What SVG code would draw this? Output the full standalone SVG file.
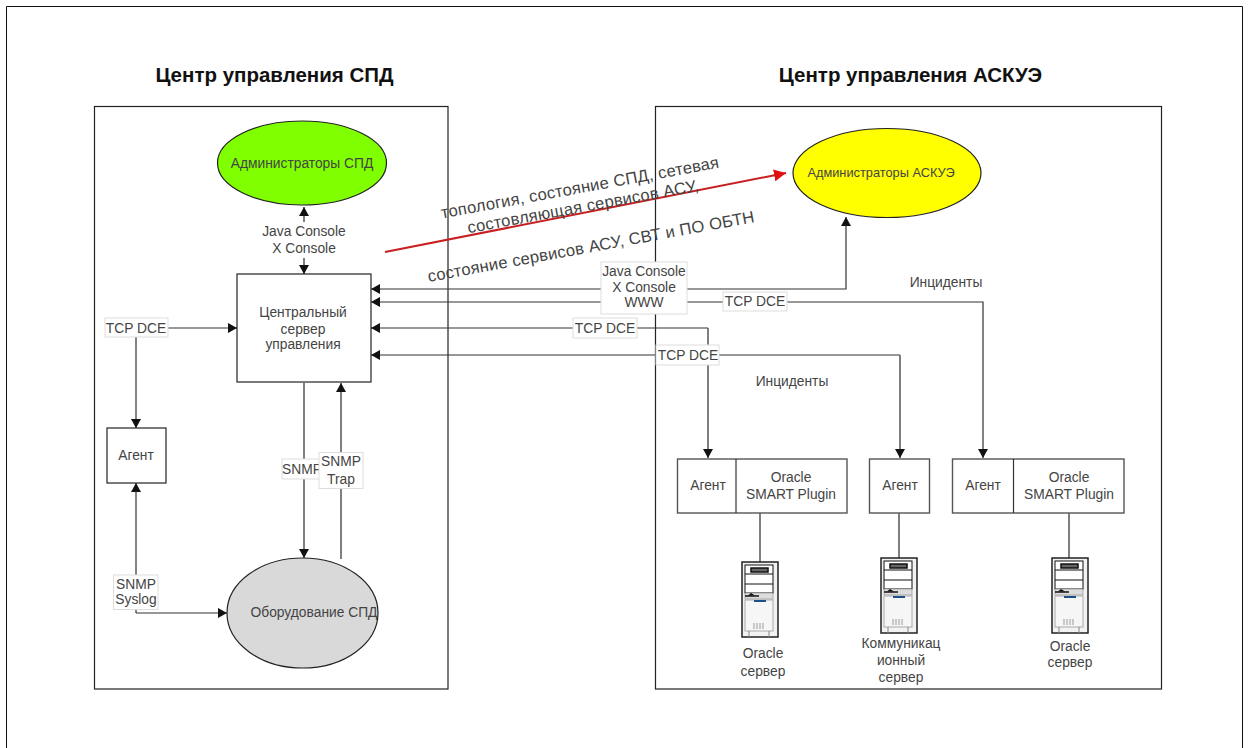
<svg xmlns="http://www.w3.org/2000/svg" width="1249" height="748" viewBox="0 0 1249 748">
<style>
text{font-family:"Liberation Sans",Arial,sans-serif;font-size:13.8px;fill:#444;text-anchor:middle}
.h{font-size:20.5px;font-weight:bold;fill:#111}
.r{font-size:16.6px;letter-spacing:.2px}
.box{fill:#fff;stroke:#222;stroke-width:1.2}
.sub{fill:#fff;stroke:#555;stroke-width:1.4}
.c{fill:none;stroke:#333;stroke-width:1.2}
.g{fill:none;stroke:#555;stroke-width:1.5}
.lb{fill:#fff;stroke:#ddd;stroke-width:1}
</style>
<defs>
<marker id="a" markerUnits="userSpaceOnUse" markerWidth="10" markerHeight="10" refX="9" refY="5" orient="auto-start-reverse"><path d="M0 0L9 5L0 10Z" fill="#111"/></marker>
<marker id="ra" markerUnits="userSpaceOnUse" markerWidth="14" markerHeight="14" refX="12" refY="6" orient="auto"><path d="M0 0L12 6L0 12Z" fill="#e01010"/></marker>
<g id="srv">
<rect x="0" y="0" width="36" height="75" fill="#f2f2f2" stroke="#222" stroke-width="1.5"/>
<rect x="3" y="3" width="28" height="28" fill="#fff" stroke="#111" stroke-width="1"/>
<path d="M3 12H31M3 22H31" stroke="#111" stroke-width="1"/>
<rect x="9" y="6" width="17" height="4" fill="#666" stroke="#111" stroke-width="1.5"/>
<rect x="3" y="31" width="28" height="6" fill="#ddd" stroke="#888" stroke-width=".6"/>
<path d="M3 34H17" stroke="#111" stroke-width="1.5"/><path d="M6 33.500L9 31L13 33.500Z" fill="#111"/>
<rect x="3" y="38" width="28" height="31" fill="#f6f6f6" stroke="#aaa" stroke-width="1"/>
<rect x="12" y="38" width="12" height="2" fill="#1f4f8a"/>
<path d="M11 62h12M11 64h12M11 66h12" stroke="#999" stroke-width="1" stroke-dasharray="2 1"/>
<path d="M7 69v6M27 69v6" stroke="#888" stroke-width="1"/>
</g>
</defs>
<rect width="1249" height="748" fill="#fff"/>
<path d="M6.500 748V6.500H1242.500V748" fill="none" stroke="#111" stroke-width="1"/>
<text class="h" x="274.500" y="81.500">Центр управления СПД</text>
<text class="h" x="910.500" y="81.500">Центр управления АСКУЭ</text>
<g id="zone-spd"><rect x="94.500" y="106.500" width="353.500" height="582.500" class="box"/></g>
<g id="zone-askue"><rect x="655.500" y="106.500" width="506" height="582.500" class="box"/></g>
<g id="connectors">
<path class="g" d="M304 207V274" marker-start="url(#a)" marker-end="url(#a)"/>
<path class="c" d="M846 217V289H371" marker-start="url(#a)" marker-end="url(#a)"/>
<path class="c" d="M983 458V302H371" marker-start="url(#a)" marker-end="url(#a)"/>
<path class="c" d="M708 328H371" marker-end="url(#a)"/>
<path class="g" d="M708 328V458" marker-end="url(#a)"/>
<path class="c" d="M900 355H371" marker-end="url(#a)"/>
<path class="g" d="M900 355V458" marker-end="url(#a)"/>
<path class="c" d="M136 328H237" marker-end="url(#a)"/>
<path class="c" d="M136 328V428" marker-end="url(#a)"/>
<path class="c" d="M136 613V483" marker-end="url(#a)"/>
<path class="c" d="M136 613H227" marker-end="url(#a)"/>
<path class="g" d="M304 383V558" marker-end="url(#a)"/>
<path class="g" d="M341 559V383" marker-end="url(#a)"/>
<path class="g" d="M760 513V562M899 513V558M1069 513V558"/>
<path d="M385 252L786 173" fill="none" stroke="#c82020" stroke-width="2" marker-end="url(#ra)"/>
</g>
<g id="admin-spd"><ellipse cx="302" cy="163" rx="84.500" ry="42" fill="#80ff00" stroke="#222" stroke-width="1.2"/><text x="302" y="168">Администраторы СПД</text></g>
<g id="admin-askue"><ellipse cx="887" cy="173" rx="94" ry="44.500" fill="#ffff00" stroke="#222" stroke-width="1.2"/><text x="881" y="177" style="font-size:12.8px">Администраторы АСКУЭ</text></g>
<g id="central"><rect x="237" y="274" width="134" height="108" class="box"/><text x="303" y="317">Центральный</text><text x="303" y="334">сервер</text><text x="303" y="349">управления</text></g>
<g id="agent-spd"><rect x="107" y="428" width="59" height="55" class="box"/><text x="136" y="460">Агент</text></g>
<g id="equipment"><ellipse cx="302.500" cy="613" rx="75.500" ry="55" fill="#d9d9d9" stroke="#222" stroke-width="1.2"/><text x="314" y="617">Оборудование СПД</text></g>
<g id="agent1"><rect x="677.500" y="459" width="169.500" height="54" class="sub"/><path class="c" d="M736 459V513"/><text x="708" y="490">Агент</text><text x="791" y="482">Oracle</text><text x="791" y="499">SMART Plugin</text></g>
<g id="agent2"><rect x="869.500" y="459" width="60" height="54" class="sub"/><text x="900" y="490">Агент</text></g>
<g id="agent3"><rect x="952.500" y="459" width="171.500" height="54" class="sub"/><path class="c" d="M1013.500 459V513"/><text x="983" y="490">Агент</text><text x="1069" y="482">Oracle</text><text x="1069" y="499">SMART Plugin</text></g>
<g id="server1"><use href="#srv" x="742" y="562"/><text x="763" y="658">Oracle</text><text x="763" y="676">сервер</text></g>
<g id="server2"><use href="#srv" x="881" y="558"/><text x="901" y="648">Коммуникац</text><text x="901" y="665">ионный</text><text x="901" y="682">сервер</text></g>
<g id="server3"><use href="#srv" x="1052" y="558"/><text x="1070" y="651">Oracle</text><text x="1070" y="667">сервер</text></g>
<g id="labels">
<rect x="261" y="222" width="85" height="36" fill="#fff"/>
<text x="304" y="236">Java Console</text><text x="304" y="253">X Console</text>
<rect class="lb" x="601" y="262" width="86" height="52"/><text x="644" y="276">Java Console</text><text x="644" y="292">X Console</text><text x="644" y="307">WWW</text>
<rect class="lb" x="723" y="292" width="64" height="19"/><text x="755" y="306">TCP DCE</text>
<rect class="lb" x="573" y="318" width="64" height="20"/><text x="605" y="333">TCP DCE</text>
<rect class="lb" x="656" y="345" width="63" height="20"/><text x="688" y="360">TCP DCE</text>
<rect class="lb" x="105" y="318" width="63" height="19"/><text x="136" y="333">TCP DCE</text>
<rect class="lb" x="282" y="459" width="40" height="20"/><text x="302" y="474">SNMP</text>
<rect class="lb" x="319" y="452.500" width="44" height="36"/><text x="341" y="466">SNMP</text><text x="341" y="484">Trap</text>
<rect class="lb" x="113.500" y="575" width="44.500" height="34.500"/><text x="136" y="589">SNMP</text><text x="136" y="604">Syslog</text>
<text x="946" y="287">Инциденты</text>
<text x="792" y="386">Инциденты</text>
<text class="r" transform="translate(581 193) rotate(-10.4)">топология, состояние СПД, сетевая</text>
<text class="r" transform="translate(584 212) rotate(-10.4)">состовляющая сервисов АСУ,</text>
<text class="r" transform="translate(592 252) rotate(-10.4)">состояние сервисов АСУ, СВТ и ПО ОБТН</text>
</g>
</svg>
